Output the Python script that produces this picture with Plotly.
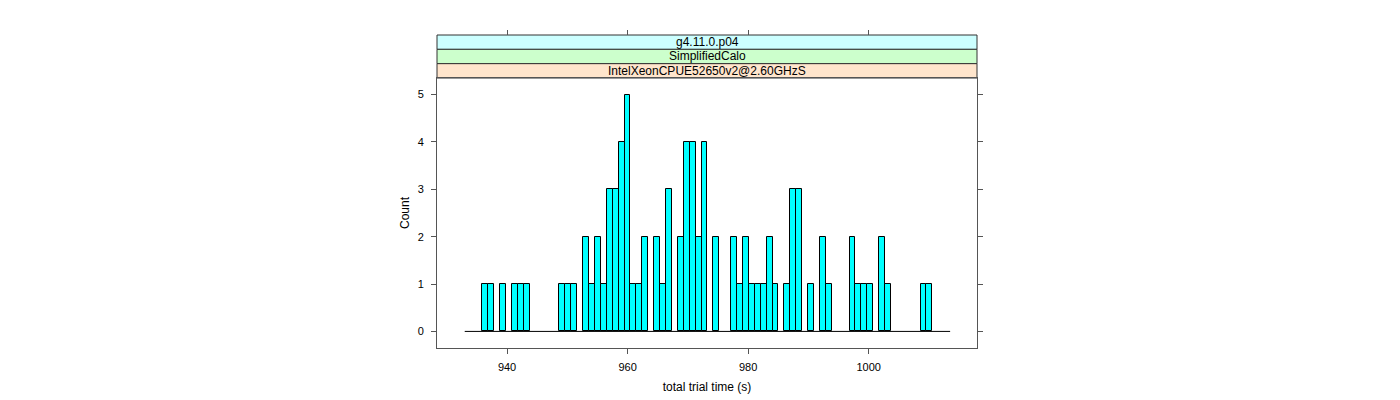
"""Histogram of total trial time, lattice-style panel with strips."""

import plotly.graph_objects as go

# histogram breaks (start and width) and counts per bin
BIN_START = 932.98
BIN_WIDTH = 0.982
COUNTS = [
    0, 0, 0, 1, 1, 0, 1, 0, 1, 1,
    1, 0, 0, 0, 0, 0, 1, 1, 1, 0,
    2, 1, 2, 1, 3, 3, 4, 5, 1, 1,
    2, 0, 2, 1, 3, 0, 2, 4, 4, 2,
    4, 0, 2, 0, 0, 2, 1, 2, 1, 1,
    1, 2, 1, 0, 1, 3, 3, 0, 1, 0,
    2, 1, 0, 0, 0, 2, 1, 1, 1, 0,
    2, 1, 0, 0, 0, 0, 0, 1, 1, 0,
    0, 0,
]
X_TICKS = [940, 960, 980, 1000]
Y_TICKS = [0, 1, 2, 3, 4, 5]
STRIPS = ["g4.11.0.p04", "SimplifiedCalo", "IntelXeonCPUE52650v2@2.60GHzS"]
STRIP_COLORS = ["#CCFFFF", "#CCFFCC", "#FFE5CC"]

FONT = "Liberation Sans, Arial, sans-serif"
AXIS_COLOR = "#555555"

# page geometry (pixels); the html body adds an 8px offset
W, H = 1400, 400
OFF = 8
M_L, M_T = 437 - OFF, 35 - OFF
M_R = W - (977 - OFF)
M_B = H - (348 - OFF)
PANEL_TOP = 78 - OFF

centers = [BIN_START + (i + 0.5) * BIN_WIDTH for i in range(len(COUNTS))]
edges = [BIN_START, BIN_START + len(COUNTS) * BIN_WIDTH]

plot_h = H - M_T - M_B
dom_top = (H - M_B - PANEL_TOP) / plot_h
strip_h = (1 - dom_top) / len(STRIPS)

fig = go.Figure()

fig.add_trace(
    go.Bar(
        x=centers,
        y=[c if c else None for c in COUNTS],
        width=BIN_WIDTH,
        marker=dict(color="#00FFFF", line=dict(color="black", width=1)),
        hoverinfo="x+y",
        showlegend=False,
    )
)

# baseline of the empty bins, on the top axis so that axis gets drawn
fig.add_trace(
    go.Scatter(
        x=edges,
        y=[0, 0],
        mode="lines",
        line=dict(color="black", width=1),
        xaxis="x2",
        yaxis="y",
        hoverinfo="skip",
        showlegend=False,
    )
)

# strips above the panel, top one first
for k, (label, color) in enumerate(zip(STRIPS, STRIP_COLORS)):
    y1 = 1 - k * strip_h
    y0 = y1 - strip_h
    fig.add_shape(
        type="rect", xref="paper", yref="paper",
        x0=0, x1=1, y0=y0, y1=y1,
        fillcolor=color, line=dict(color="#333333", width=1),
        layer="below",
    )
    fig.add_annotation(
        text=label, xref="paper", yref="paper",
        x=0.5, y=(y0 + y1) / 2, xanchor="center", yanchor="middle",
        showarrow=False,
        font=dict(family=FONT, size=12, color="black"),
    )

axis_common = dict(
    showgrid=False,
    zeroline=False,
    ticks="outside",
    ticklen=5,
    tickcolor=AXIS_COLOR,
    tickfont=dict(family=FONT, size=11, color="black"),
)

fig.update_layout(
    width=W,
    height=H,
    margin=dict(l=M_L, r=M_R, t=M_T, b=M_B),
    paper_bgcolor="white",
    plot_bgcolor="white",
    bargap=0,
    xaxis=dict(
        range=[928.38, 1017.96],
        tickvals=X_TICKS,
        showline=True,
        linecolor=AXIS_COLOR,
        mirror=True,
        ticklabelstandoff=4,
        title=dict(text="total trial time (s)", font=dict(family=FONT, size=12, color="black"), standoff=10),
        **axis_common,
    ),
    xaxis2=dict(
        overlaying="x",
        matches="x",
        anchor="free",
        position=1,
        side="top",
        tickvals=X_TICKS,
        showticklabels=False,
        showline=False,
        **axis_common,
    ),
    yaxis=dict(
        domain=[0, dom_top],
        range=[-0.35, 5.35],
        tickvals=Y_TICKS,
        showline=True,
        linecolor=AXIS_COLOR,
        mirror="ticks",
        ticklabelstandoff=5,
        title=dict(text="Count", font=dict(family=FONT, size=12, color="black"), standoff=5),
        **axis_common,
    ),
)

fig.write_html("out.html")
